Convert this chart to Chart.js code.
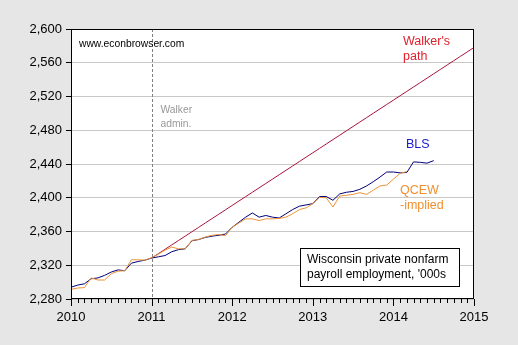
<!DOCTYPE html>
<html>
<head>
<meta charset="utf-8">
<script src="https://cdn.jsdelivr.net/npm/chart.js@4"></script>
<style>
  html, body { margin: 0; padding: 0; background: #e6e6e6; }
  #wrap { width: 518px; height: 345px; }
</style>
</head>
<body>
<div id="wrap"><canvas id="chart" width="518" height="345"></canvas></div>
<script>
// --- data (months counted from Jan 2010 = 0) ---
const yearLabels = ["2010", "2011", "2012", "2013", "2014", "2015"];
const yTicks = [2280, 2320, 2360, 2400, 2440, 2480, 2520, 2560, 2600];

// BLS private nonfarm payroll, Jan 2010 - Jul 2014
const blsStart = 0;
const blsValues = [
  2294, 2296.5, 2298, 2304, 2305, 2308, 2312, 2314.5, 2313.5, 2322.5, 2324.5, 2326,
  2328.5, 2330, 2331.5, 2336, 2338.5, 2339.5, 2349, 2350.5, 2353, 2354.5, 2355.5, 2357,
  2365, 2371, 2377, 2382, 2377, 2379, 2377, 2376, 2381, 2386, 2390, 2391.5,
  2393, 2401.5, 2401.5, 2397, 2404.5, 2406.5, 2407.5, 2410, 2414, 2419, 2424.5, 2430.5,
  2430.5, 2429.5, 2430, 2442.5, 2442, 2441, 2444
];

// QCEW-implied, Jan 2010 - Mar 2014
const qcewStart = 0;
const qcewValues = [
  2291.5, 2293, 2293.5, 2305, 2302.5, 2302.5, 2310, 2313, 2313.5, 2326.5, 2326.5, 2326,
  2329, 2333, 2338, 2341.5, 2339.5, 2339.5, 2349.5, 2350.5, 2353.5, 2355.5, 2356.5, 2355,
  2365, 2370, 2375, 2375, 2373, 2375, 2375, 2375.5, 2377, 2381, 2386, 2388,
  2393, 2400.5, 2400, 2389, 2402, 2403, 2404, 2406, 2404, 2409, 2414, 2415,
  2422, 2429, 2431
];

// Walker's path, Jan 2011 - Jan 2015
const walkerStart = 12;
const walkerValues = [
  2328.5, 2333.7, 2338.9, 2344.1, 2349.3, 2354.5, 2359.7, 2364.9, 2370.1, 2375.3, 2380.5, 2385.7,
  2390.9, 2396.1, 2401.3, 2406.5, 2411.7, 2416.9, 2422.1, 2427.3, 2432.5, 2437.7, 2442.9, 2448.1,
  2453.3, 2458.5, 2463.7, 2468.9, 2474.1, 2479.3, 2484.5, 2489.7, 2494.9, 2500.1, 2505.3, 2510.5,
  2515.7, 2520.9, 2526.1, 2531.3, 2536.5, 2541.7, 2546.9, 2552.1, 2557.3, 2562.5, 2567.7, 2572.9,
  2578.1
];

function toPoints(start, values) {
  return values.map((v, i) => ({ x: start + i, y: v }));
}

const FONT = "'Liberation Sans', Arial, sans-serif";

// extra drawing: border, month ticks, 2011 marker, text notes
const decorations = {
  id: "decorations",
  beforeDraw(chart) {
    const { ctx, chartArea: a } = chart;
    ctx.save();
    ctx.fillStyle = "#ffffff";
    ctx.fillRect(a.left, a.top, a.right - a.left, a.bottom - a.top);
    ctx.restore();
  },
  afterDatasetsDraw(chart) {
    const { ctx, chartArea: a, scales } = chart;
    const x = scales.x;
    ctx.save();

    // dashed Walker line
    const xw = Math.round(x.getPixelForValue(12)) + 0.5;
    ctx.strokeStyle = "#808080";
    ctx.lineWidth = 1;
    ctx.setLineDash([3, 2]);
    ctx.beginPath();
    ctx.moveTo(xw, a.top);
    ctx.lineTo(xw, a.bottom);
    ctx.stroke();
    ctx.setLineDash([]);

    // frame
    ctx.strokeStyle = "#000";
    ctx.strokeRect(a.left + 0.5, a.top + 0.5, a.right - a.left - 1, a.bottom - a.top - 1);

    // month ticks
    ctx.beginPath();
    for (let m = 0; m <= 60; m++) {
      const px = Math.round(x.getPixelForValue(m)) + 0.5;
      const len = m % 12 === 0 ? 7 : 4;
      ctx.moveTo(px, a.bottom);
      ctx.lineTo(px, a.bottom + len);
    }
    ctx.stroke();

    // notes
    ctx.textBaseline = "middle";
    ctx.textAlign = "left";
    ctx.font = "10.3px " + FONT;
    ctx.fillStyle = "#000";
    ctx.fillText("www.econbrowser.com", a.left + 8, a.top + 15);

    ctx.fillStyle = "#999";
    ctx.fillText("Walker", xw + 8, 110);
    ctx.fillText("admin.", xw + 8, 124);

    ctx.font = "12.5px " + FONT;
    ctx.fillStyle = "#e0202c";
    ctx.fillText("Walker's", 403, 42);
    ctx.fillText("path", 403, 57);

    ctx.fillStyle = "#1a1acc";
    ctx.fillText("BLS", 406, 145);

    ctx.fillStyle = "#f09030";
    ctx.fillText("QCEW", 400, 191);
    ctx.fillText("-implied", 400, 206);

    // caption box
    ctx.fillStyle = "#fff";
    ctx.fillRect(300.5, 248.5, 159, 38);
    ctx.strokeStyle = "#000";
    ctx.strokeRect(300.5, 248.5, 159, 38);
    ctx.font = "12px " + FONT;
    ctx.fillStyle = "#000";
    ctx.fillText("Wisconsin private nonfarm", 307, 260);
    ctx.fillText("payroll employment, '000s", 307, 275);

    ctx.restore();
  }
};

new Chart(document.getElementById("chart"), {
  type: "line",
  data: {
    datasets: [
      {
        label: "QCEW-implied",
        data: toPoints(qcewStart, qcewValues),
        borderColor: "#ec9436",
        borderWidth: 1
      },
      {
        label: "BLS",
        data: toPoints(blsStart, blsValues),
        borderColor: "#00007a",
        borderWidth: 1
      },
      {
        label: "Walker's path",
        data: toPoints(walkerStart, walkerValues),
        borderColor: "#a8123c",
        borderWidth: 1
      }
    ]
  },
  options: {
    responsive: false,
    animation: false,
    events: [],
    elements: { point: { radius: 0 }, line: { tension: 0 } },
    layout: { padding: { left: 0, top: 29, right: 44, bottom: 0 } },
    plugins: { legend: { display: false }, tooltip: { enabled: false } },
    scales: {
      x: {
        type: "linear",
        min: 0,
        max: 60,
        afterFit: s => { s.height = 46; },
        afterBuildTicks: s => { s.ticks = yearLabels.map((_, i) => ({ value: i * 12 })); },
        grid: { display: false, drawOnChartArea: false },
        border: { display: false },
        ticks: {
          padding: 3,
          color: "#000",
          font: { family: FONT, size: 13 },
          maxRotation: 0,
          callback: v => yearLabels[v / 12]
        }
      },
      y: {
        min: 2280,
        max: 2600,
        afterFit: s => { s.width = 71; },
        afterBuildTicks: s => { s.ticks = yTicks.map(v => ({ value: v })); },
        grid: { color: "#c8c8c8", tickColor: "#000", tickLength: 5, lineWidth: 1 },
        border: { display: false },
        ticks: {
          padding: 4,
          color: "#000",
          font: { family: FONT, size: 13 },
          callback: v => v.toLocaleString("en-US")
        }
      }
    }
  },
  plugins: [decorations]
});
</script>
</body>
</html>
